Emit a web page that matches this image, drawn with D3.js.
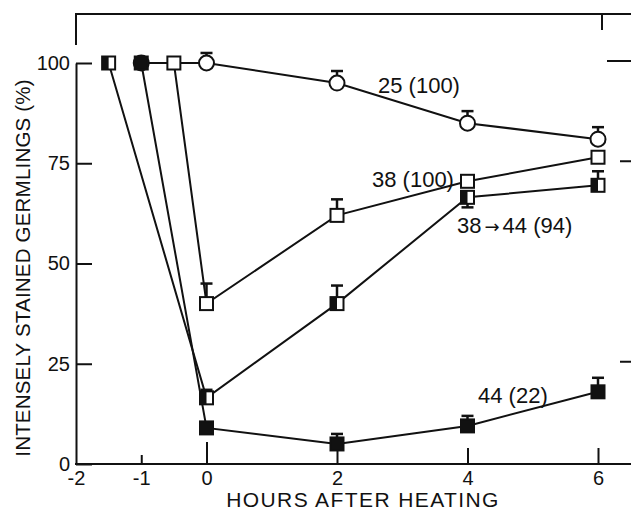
<!DOCTYPE html>
<html>
<head>
<meta charset="utf-8">
<script src="https://cdn.jsdelivr.net/npm/d3@7"></script>
<style>
  body { margin: 0; background: #fff; }
  svg { display: block; }
  text { font-family: "Liberation Sans", Arial, sans-serif; fill: #111; }
</style>
</head>
<body>
<div id="viz"></div>
<script>
// ---- data ----
// 25 (100): open circles
const c25_x = [-1, 0, 2, 4, 6];
const c25_y = [100, 100, 95, 85, 81];
const c25_err = [null, 102.5, 98, 88, 84];

// 38 (100): open squares
const s38_x = [-0.5, 0, 2, 4, 6];
const s38_y = [100, 40, 62, 70.5, 76.5];
const s38_err = [null, 45, 66, null, null];

// 38 -> 44 (94): half filled squares
const h38_x = [-1.5, 0, 2, 4, 6];
const h38_y = [100, 16.5, 40, 66.5, 69.5];
const h38_err = [null, 18.5, 44.5, 64, 73];

// 44 (22): filled squares
const f44_x = [-1, 0, 2, 4, 6];
const f44_y = [100, 9, 5, 9.5, 18];
const f44_err = [null, null, 7.5, 12, 21.5];

const xTicks = [-2, -1, 0, 2, 4, 6];
const yTicks = [0, 25, 50, 75, 100];

// ---- layout ----
const W = 631, H = 513;

const x = d3.scaleLinear().domain([-2, 6]).range([76, 598]);
const y = d3.scaleLinear().domain([0, 100]).range([464, 63]);

const svg = d3.select("#viz").append("svg")
    .attr("width", W)
    .attr("height", H);

const ink = "#111";

// frame bits (top line, short left piece, top tick, right-hand ticks)
svg.append("path")
    .attr("d", `M76,45V14H${W}`)
    .attr("fill", "none").attr("stroke", ink).attr("stroke-width", 2);
svg.append("line")
    .attr("x1", x(6) + 4).attr("x2", x(6) + 4)
    .attr("y1", 14).attr("y2", 30)
    .attr("stroke", ink).attr("stroke-width", 2);
svg.selectAll(".rtick")
    .data([100, 75, 25])
    .join("line")
    .attr("x1", d => d === 100 ? 607 : 620).attr("x2", W)
    .attr("y1", d => y(d) - 2).attr("y2", d => y(d) - 2)
    .attr("stroke", ink).attr("stroke-width", 2);

// y axis
const yAxis = svg.append("g")
    .attr("transform", "translate(76,0)")
    .call(d3.axisLeft(y).tickValues(yTicks).tickSizeInner(-16).tickSizeOuter(0).tickPadding(6));
yAxis.selectAll("path, line").attr("stroke", ink).attr("stroke-width", 2);
yAxis.selectAll("text").attr("font-size", 20).attr("fill", ink)
    .attr("font-family", "Liberation Sans, Arial, sans-serif");

// x axis
svg.append("line")
    .attr("x1", 75).attr("x2", W)
    .attr("y1", y(0)).attr("y2", y(0))
    .attr("stroke", ink).attr("stroke-width", 2);
const tickLen = {"-2": 0, "-1": 9, "0": 22, "2": 16, "4": 16, "6": 16};
const xAxis = svg.append("g")
    .attr("transform", `translate(0,${y(0)})`)
    .call(d3.axisBottom(x).tickValues(xTicks).tickSizeInner(-16).tickSizeOuter(0).tickPadding(6)
        .tickFormat(d3.format("d")));
xAxis.select(".domain").remove();
xAxis.selectAll(".tick line")
    .attr("y2", d => -tickLen[d])
    .attr("stroke", ink).attr("stroke-width", 2);
xAxis.selectAll(".tick text")
    .attr("font-size", 20).attr("fill", ink)
    .attr("font-family", "Liberation Sans, Arial, sans-serif")
    .attr("dy", "0.75em")
    .text(d => d < 0 ? "-" + Math.abs(d) : d);

// axis titles
svg.append("text")
    .attr("x", 363).attr("y", 507)
    .attr("text-anchor", "middle")
    .attr("font-size", 21)
    .attr("letter-spacing", 1.4)
    .text("HOURS AFTER HEATING");

svg.append("text")
    .attr("transform", "translate(30,268) rotate(-90)")
    .attr("text-anchor", "middle")
    .attr("font-size", 20.5)
    .attr("letter-spacing", 0.2)
    .text("INTENSELY STAINED GERMLINGS (%)");

// ---- series ----
const series = [
  {xs: c25_x, ys: c25_y, err: c25_err, shape: "circle"},
  {xs: s38_x, ys: s38_y, err: s38_err, shape: "open"},
  {xs: h38_x, ys: h38_y, err: h38_err, shape: "half"},
  {xs: f44_x, ys: f44_y, err: f44_err, shape: "filled"}
];

const line = d3.line()
    .x(d => x(d[0]))
    .y(d => y(d[1]));

series.forEach(s => {
  const pts = s.xs.map((v, i) => [v, s.ys[i], s.err[i]]);
  svg.append("path")
      .datum(pts)
      .attr("d", line)
      .attr("fill", "none").attr("stroke", ink).attr("stroke-width", 2);
  s.pts = pts;
});

// error bars (single sided, as drawn)
series.forEach(s => {
  const e = svg.append("g").selectAll("g")
      .data(s.pts.filter(d => d[2] != null))
      .join("g");
  e.append("line")
      .attr("x1", d => x(d[0])).attr("x2", d => x(d[0]))
      .attr("y1", d => y(d[1])).attr("y2", d => y(d[2]))
      .attr("stroke", ink).attr("stroke-width", 2.5);
  e.append("line")
      .attr("x1", d => x(d[0]) - 6).attr("x2", d => x(d[0]) + 6)
      .attr("y1", d => y(d[2])).attr("y2", d => y(d[2]))
      .attr("stroke", ink).attr("stroke-width", 2.5);
});

// markers
const half = 6.5;
series.forEach(s => {
  const m = svg.append("g").selectAll("g")
      .data(s.pts)
      .join("g")
      .attr("transform", d => `translate(${x(d[0])},${y(d[1])})`);
  if (s.shape === "circle") {
    m.append("circle").attr("r", 7.5)
        .attr("fill", "#fff").attr("stroke", ink).attr("stroke-width", 2);
  } else {
    m.append("rect")
        .attr("x", -half).attr("y", -half)
        .attr("width", 2 * half).attr("height", 2 * half)
        .attr("fill", s.shape === "filled" ? ink : "#fff")
        .attr("stroke", ink).attr("stroke-width", 2);
    if (s.shape === "half") {
      m.append("rect")
          .attr("x", -half).attr("y", -half)
          .attr("width", half).attr("height", 2 * half)
          .attr("fill", ink);
    }
  }
});

// series labels
const labels = [
  {t: "25 (100)", x: 378, y: 93},
  {t: "38 (100)", x: 372, y: 187},
  {t: "44 (22)", x: 478, y: 403}
];
svg.selectAll(".lab")
    .data(labels)
    .join("text")
    .attr("class", "lab")
    .attr("x", d => d.x).attr("y", d => d.y)
    .attr("font-size", 22)
    .text(d => d.t);

// the 38 -> 44 label, arrow set in a font with a heavier glyph
const arr = svg.append("text")
    .attr("x", 457).attr("y", 233)
    .attr("font-size", 22);
arr.append("tspan").text("38");
arr.append("tspan").attr("font-family", "DejaVu Sans").attr("font-size", 18).attr("dx", 3).text("\u2192");
arr.append("tspan").attr("dx", 3).text("44  (94)");
</script>
</body>
</html>
